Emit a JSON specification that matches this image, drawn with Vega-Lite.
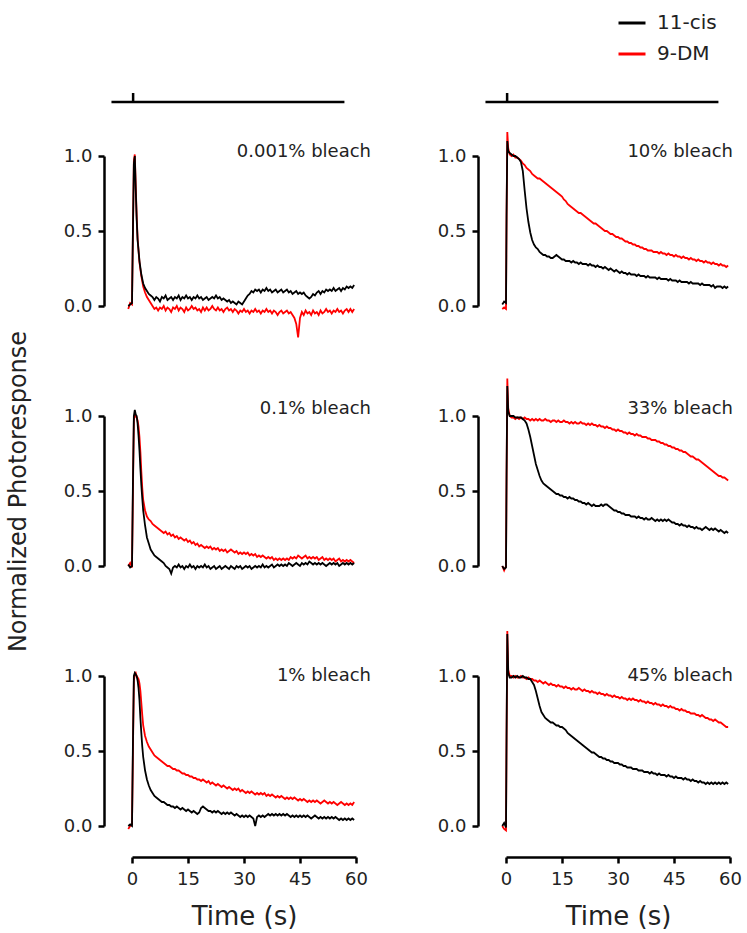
{
"$schema":"https://vega.github.io/schema/vega-lite/v6.json",
"padding":{"left":6,"top":8,"right":5,"bottom":5},
"config":{"view":{"stroke":null},"font":"DejaVu Sans",
 "axis":{"grid":false,"domainColor":"#000","domainWidth":2.5,"tickColor":"#000","tickWidth":2.5,"tickSize":6,"labelFontSize":18,"labelColor":"#222","titleFontSize":26,"titleFontWeight":"normal","titleColor":"#222","labelFont":"DejaVu Sans","titleFont":"DejaVu Sans"},
 "text":{"font":"DejaVu Sans"},
 "legend":{"labelFont":"DejaVu Sans"}},
"datasets":{
"stim":[{"t":-5.5,"v":1.36,"i":0},{"t":0.3,"v":1.36,"i":1},{"t":0.3,"v":1.42,"i":2},{"t":0.3,"v":1.36,"i":3},{"t":56.9,"v":1.36,"i":4}],
"p1":[{"t":-1,"a":0,"b":-0.02},{"t":-0.5,"a":0.01,"b":0.02},{"t":0,"a":0.02,"b":0.01},{"t":0.25,"a":0.5,"b":0.5},{"t":0.5,"a":0.95,"b":0.97},{"t":0.75,"a":1,"b":1.01},{"t":1,"a":0.78,"b":0.8},{"t":1.25,"a":0.58,"b":0.6},{"t":1.5,"a":0.44,"b":0.45},{"t":2,"a":0.3,"b":0.29},{"t":2.5,"a":0.21,"b":0.2},{"t":3,"a":0.15,"b":0.13},{"t":3.5,"a":0.12,"b":0.09},{"t":4,"a":0.1,"b":0.06},{"t":4.5,"a":0.08,"b":0.04},{"t":5,"a":0.07,"b":0.02},
{"t":5.5,"a":0.06,"b":0},{"t":6,"a":0.04,"b":-0.02},{"t":6.5,"a":0.06,"b":-0.01},{"t":7,"a":0.05,"b":-0.03},{"t":7.5,"a":0.03,"b":-0.01},{"t":8,"a":0.06,"b":-0.02},{"t":8.5,"a":0.05,"b":0},{"t":9,"a":0.07,"b":-0.03},{"t":9.5,"a":0.04,"b":-0.01},{"t":10,"a":0.05,"b":-0.02},{"t":10.5,"a":0.06,"b":-0.04},{"t":11,"a":0.04,"b":-0.01},{"t":11.5,"a":0.06,"b":-0.02},{"t":12,"a":0.05,"b":0},{"t":12.5,"a":0.07,"b":-0.03},{"t":13,"a":0.04,"b":-0.01},{"t":13.5,"a":0.06,"b":-0.02},{"t":14,"a":0.05,"b":-0.04},{"t":14.5,"a":0.07,"b":-0.01},{"t":15,"a":0.05,"b":-0.03},{"t":15.5,"a":0.06,"b":-0.02},{"t":16,"a":0.04,"b":0},{"t":16.5,"a":0.06,"b":-0.02},{"t":17,"a":0.05,"b":-0.01},{"t":17.5,"a":0.07,"b":-0.03},{"t":18,"a":0.05,"b":-0.02},{"t":18.5,"a":0.06,"b":-0.04},{"t":19,"a":0.04,"b":-0.01},{"t":19.5,"a":0.05,"b":-0.03},{"t":20,"a":0.06,"b":-0.01},{"t":20.5,"a":0.04,"b":-0.03},{"t":21,"a":0.05,"b":-0.02},{"t":21.5,"a":0.06,"b":0},{"t":22,"a":0.05,"b":-0.02},{"t":22.5,"a":0.07,"b":-0.03},{"t":23,"a":0.05,"b":-0.01},{"t":23.5,"a":0.06,"b":-0.03},{"t":24,"a":0.04,"b":-0.02},{"t":24.5,"a":0.05,"b":-0.04},{"t":25,"a":0.04,"b":-0.02},{"t":25.5,"a":0.03,"b":-0.01},{"t":26,"a":0.04,"b":-0.03},{"t":26.5,"a":0.02,"b":-0.02},{"t":27,"a":0.03,"b":-0.04},{"t":27.5,"a":0.02,"b":-0.02},{"t":28,"a":0.01,"b":-0.03},{"t":28.5,"a":0.03,"b":-0.05},{"t":29,"a":0.02,"b":-0.03},{"t":29.5,"a":0.01,"b":-0.04},{"t":30,"a":0.03,"b":-0.02},{"t":30.5,"a":0.05,"b":-0.04},{"t":31,"a":0.07,"b":-0.03},{"t":31.5,"a":0.08,"b":-0.05},{"t":32,"a":0.1,"b":-0.03},{"t":32.5,"a":0.09,"b":-0.04},{"t":33,"a":0.11,"b":-0.02},{"t":33.5,"a":0.1,"b":-0.04},{"t":34,"a":0.11,"b":-0.03},{"t":34.5,"a":0.09,"b":-0.05},{"t":35,"a":0.11,"b":-0.03},{"t":35.5,"a":0.1,"b":-0.04},{"t":36,"a":0.12,"b":-0.02},{"t":36.5,"a":0.1,"b":-0.04},{"t":37,"a":0.11,"b":-0.03},{"t":37.5,"a":0.09,"b":-0.05},{"t":38,"a":0.1,"b":-0.03},{"t":38.5,"a":0.11,"b":-0.04},{"t":39,"a":0.09,"b":-0.06},{"t":39.5,"a":0.1,"b":-0.04},{"t":40,"a":0.11,"b":-0.03},{"t":40.5,"a":0.09,"b":-0.05},{"t":41,"a":0.1,"b":-0.04},{"t":41.5,"a":0.11,"b":-0.03},{"t":42,"a":0.09,"b":-0.05},{"t":42.5,"a":0.1,"b":-0.04},{"t":43,"a":0.08,"b":-0.06},{"t":43.5,"a":0.09,"b":-0.08},{"t":44,"a":0.1,"b":-0.12},{"t":44.5,"a":0.08,"b":-0.21},{"t":45,"a":0.09,"b":-0.08},{"t":45.5,"a":0.08,"b":-0.04},{"t":46,"a":0.09,"b":-0.06},{"t":46.5,"a":0.07,"b":-0.03},{"t":47,"a":0.06,"b":-0.05},{"t":47.5,"a":0.05,"b":-0.04},{"t":48,"a":0.06,"b":-0.06},{"t":48.5,"a":0.08,"b":-0.03},{"t":49,"a":0.07,"b":-0.05},{"t":49.5,"a":0.09,"b":-0.04},{"t":50,"a":0.1,"b":-0.06},{"t":50.5,"a":0.08,"b":-0.03},{"t":51,"a":0.1,"b":-0.05},{"t":51.5,"a":0.09,"b":-0.04},{"t":52,"a":0.11,"b":-0.02},{"t":52.5,"a":0.1,"b":-0.04},{"t":53,"a":0.11,"b":-0.03},{"t":53.5,"a":0.1,"b":-0.05},{"t":54,"a":0.12,"b":-0.03},{"t":54.5,"a":0.1,"b":-0.04},{"t":55,"a":0.11,"b":-0.02},{"t":55.5,"a":0.12,"b":-0.04},{"t":56,"a":0.1,"b":-0.03},{"t":56.5,"a":0.12,"b":-0.05},{"t":57,"a":0.11,"b":-0.03},{"t":57.5,"a":0.13,"b":-0.02},{"t":58,"a":0.12,"b":-0.04},{"t":58.5,"a":0.13,"b":-0.02},{"t":59,"a":0.12,"b":-0.04},{"t":59.5,"a":0.14,"b":-0.02}],
"p2":[{"t":-1,"a":0.01,"b":0},{"t":-0.5,"a":-0.01,"b":0.02},{"t":0,"a":0,"b":-0.01},{"t":0.25,"a":0.55,"b":0.5},{"t":0.5,"a":1,"b":0.97},{"t":0.75,"a":1.04,"b":1.01},{"t":1,"a":1.01,"b":1},{"t":1.25,"a":1,"b":0.99},{"t":1.5,"a":0.95,"b":0.97},{"t":1.75,"a":0.87,"b":0.93},{"t":2,"a":0.77,"b":0.86},{"t":2.25,"a":0.65,"b":0.76},{"t":2.5,"a":0.54,"b":0.63},{"t":2.75,"a":0.45,"b":0.52},{"t":3,"a":0.37,"b":0.44},{"t":3.5,"a":0.27,"b":0.37},{"t":4,"a":0.19,"b":0.33},{"t":4.5,"a":0.15,"b":0.31},{"t":5,"a":0.11,"b":0.3},{"t":5.5,"a":0.09,"b":0.28},{"t":6,"a":0.07,"b":0.27},{"t":6.5,"a":0.06,"b":0.26},{"t":7,"a":0.05,"b":0.25},{"t":7.5,"a":0.04,"b":0.24},{"t":8,"a":0.03,"b":0.23},{"t":8.5,"a":0.02,"b":0.22},{"t":9,"a":0,"b":0.23},{"t":9.5,"a":-0.01,"b":0.21},{"t":10,"a":-0.02,"b":0.22},{"t":10.5,"a":-0.05,"b":0.2},{"t":11,"a":-0.01,"b":0.21},{"t":11.5,"a":0,"b":0.19},{"t":12,"a":-0.01,"b":0.2},{"t":12.5,"a":0.01,"b":0.18},{"t":13,"a":-0.01,"b":0.19},{"t":13.5,"a":0,"b":0.18},{"t":14,"a":-0.02,"b":0.17},{"t":14.5,"a":0,"b":0.18},{"t":15,"a":-0.01,"b":0.16},{"t":15.5,"a":0.01,"b":0.17},{"t":16,"a":-0.01,"b":0.15},{"t":16.5,"a":0,"b":0.16},{"t":17,"a":-0.02,"b":0.14},{"t":17.5,"a":0,"b":0.15},{"t":18,"a":-0.01,"b":0.13},{"t":18.5,"a":0,"b":0.14},{"t":19,"a":-0.01,"b":0.13},{"t":19.5,"a":0.01,"b":0.12},{"t":20,"a":-0.01,"b":0.13},{"t":20.5,"a":0,"b":0.12},{"t":21,"a":-0.02,"b":0.13},{"t":21.5,"a":-0.01,"b":0.11},{"t":22,"a":0,"b":0.12},{"t":22.5,"a":-0.02,"b":0.11},{"t":23,"a":-0.01,"b":0.12},{"t":23.5,"a":0,"b":0.1},{"t":24,"a":-0.02,"b":0.11},{"t":24.5,"a":-0.01,"b":0.1},{"t":25,"a":0,"b":0.11},{"t":25.5,"a":-0.01,"b":0.09},{"t":26,"a":-0.02,"b":0.1},{"t":26.5,"a":0,"b":0.11},{"t":27,"a":-0.01,"b":0.1},{"t":27.5,"a":-0.02,"b":0.09},{"t":28,"a":0,"b":0.1},{"t":28.5,"a":-0.01,"b":0.08},{"t":29,"a":0,"b":0.09},{"t":29.5,"a":-0.02,"b":0.08},{"t":30,"a":-0.01,"b":0.09},{"t":30.5,"a":0,"b":0.08},{"t":31,"a":-0.01,"b":0.09},{"t":31.5,"a":0,"b":0.07},{"t":32,"a":-0.02,"b":0.08},{"t":32.5,"a":-0.01,"b":0.07},{"t":33,"a":0,"b":0.08},{"t":33.5,"a":-0.01,"b":0.06},{"t":34,"a":0,"b":0.07},{"t":34.5,"a":-0.01,"b":0.06},{"t":35,"a":0.01,"b":0.07},{"t":35.5,"a":-0.01,"b":0.06},{"t":36,"a":0,"b":0.05},{"t":36.5,"a":-0.01,"b":0.06},{"t":37,"a":0,"b":0.05},{"t":37.5,"a":0.01,"b":0.06},{"t":38,"a":-0.01,"b":0.04},{"t":38.5,"a":0,"b":0.05},{"t":39,"a":0.01,"b":0.04},{"t":39.5,"a":0,"b":0.05},{"t":40,"a":0.01,"b":0.04},{"t":40.5,"a":0,"b":0.05},{"t":41,"a":0.01,"b":0.04},{"t":41.5,"a":0,"b":0.05},{"t":42,"a":0.02,"b":0.04},{"t":42.5,"a":0.01,"b":0.06},{"t":43,"a":0,"b":0.05},{"t":43.5,"a":0.01,"b":0.06},{"t":44,"a":0.02,"b":0.05},{"t":44.5,"a":0.01,"b":0.07},{"t":45,"a":0,"b":0.06},{"t":45.5,"a":0.02,"b":0.05},{"t":46,"a":0.01,"b":0.06},{"t":46.5,"a":0.02,"b":0.07},{"t":47,"a":0.01,"b":0.05},{"t":47.5,"a":0.03,"b":0.06},{"t":48,"a":0.02,"b":0.05},{"t":48.5,"a":0.01,"b":0.06},{"t":49,"a":0.02,"b":0.05},{"t":49.5,"a":0.01,"b":0.06},{"t":50,"a":0.02,"b":0.04},{"t":50.5,"a":0.01,"b":0.05},{"t":51,"a":0.02,"b":0.06},{"t":51.5,"a":0.01,"b":0.04},{"t":52,"a":0,"b":0.05},{"t":52.5,"a":0.01,"b":0.04},{"t":53,"a":0.02,"b":0.05},{"t":53.5,"a":0.01,"b":0.04},{"t":54,"a":0.02,"b":0.05},{"t":54.5,"a":0.01,"b":0.03},{"t":55,"a":0.02,"b":0.04},{"t":55.5,"a":0,"b":0.05},{"t":56,"a":0.01,"b":0.03},{"t":56.5,"a":0.02,"b":0.04},{"t":57,"a":0.01,"b":0.03},{"t":57.5,"a":0.02,"b":0.04},{"t":58,"a":0.01,"b":0.03},{"t":58.5,"a":0.02,"b":0.04},{"t":59,"a":0.01,"b":0.03},{"t":59.5,"a":0.02,"b":0.02}],
"p3":[{"t":-1,"a":0,"b":-0.02},{"t":-0.5,"a":0.01,"b":0},{"t":0,"a":0,"b":0.01},{"t":0.25,"a":0.55,"b":0.5},{"t":0.5,"a":1,"b":0.97},{"t":0.75,"a":1.02,"b":1.01},{"t":1,"a":1.01,"b":1.02},{"t":1.25,"a":1,"b":1},{"t":1.5,"a":0.97,"b":0.99},{"t":1.75,"a":0.92,"b":0.98},{"t":2,"a":0.84,"b":0.95},{"t":2.25,"a":0.72,"b":0.9},{"t":2.5,"a":0.62,"b":0.82},{"t":2.75,"a":0.53,"b":0.74},{"t":3,"a":0.46,"b":0.67},{"t":3.5,"a":0.37,"b":0.6},{"t":4,"a":0.31,"b":0.56},{"t":4.5,"a":0.27,"b":0.53},{"t":5,"a":0.24,"b":0.51},{"t":5.5,"a":0.22,"b":0.49},{"t":6,"a":0.2,"b":0.47},{"t":6.5,"a":0.19,"b":0.46},{"t":7,"a":0.18,"b":0.45},{"t":7.5,"a":0.17,"b":0.44},{"t":8,"a":0.16,"b":0.43},{"t":8.5,"a":0.16,"b":0.42},{"t":9,"a":0.15,"b":0.41},{"t":9.5,"a":0.14,"b":0.4},{"t":10,"a":0.14,"b":0.4},{"t":10.5,"a":0.13,"b":0.39},{"t":11,"a":0.13,"b":0.38},{"t":11.5,"a":0.12,"b":0.38},{"t":12,"a":0.13,"b":0.37},{"t":12.5,"a":0.12,"b":0.37},{"t":13,"a":0.11,"b":0.36},{"t":13.5,"a":0.12,"b":0.35},{"t":14,"a":0.11,"b":0.35},{"t":14.5,"a":0.1,"b":0.34},{"t":15,"a":0.11,"b":0.34},{"t":15.5,"a":0.1,"b":0.33},{"t":16,"a":0.09,"b":0.33},{"t":16.5,"a":0.1,"b":0.32},{"t":17,"a":0.09,"b":0.32},{"t":17.5,"a":0.08,"b":0.31},{"t":18,"a":0.09,"b":0.31},{"t":18.5,"a":0.12,"b":0.3},{"t":19,"a":0.13,"b":0.31},{"t":19.5,"a":0.12,"b":0.3},{"t":20,"a":0.11,"b":0.29},{"t":20.5,"a":0.1,"b":0.3},{"t":21,"a":0.1,"b":0.28},{"t":21.5,"a":0.09,"b":0.29},{"t":22,"a":0.1,"b":0.28},{"t":22.5,"a":0.09,"b":0.27},{"t":23,"a":0.1,"b":0.28},{"t":23.5,"a":0.09,"b":0.27},{"t":24,"a":0.08,"b":0.26},{"t":24.5,"a":0.09,"b":0.27},{"t":25,"a":0.08,"b":0.26},{"t":25.5,"a":0.09,"b":0.25},{"t":26,"a":0.08,"b":0.26},{"t":26.5,"a":0.09,"b":0.25},{"t":27,"a":0.08,"b":0.24},{"t":27.5,"a":0.07,"b":0.25},{"t":28,"a":0.08,"b":0.24},{"t":28.5,"a":0.07,"b":0.25},{"t":29,"a":0.06,"b":0.23},{"t":29.5,"a":0.07,"b":0.24},{"t":30,"a":0.06,"b":0.23},{"t":30.5,"a":0.07,"b":0.22},{"t":31,"a":0.06,"b":0.23},{"t":31.5,"a":0.07,"b":0.22},{"t":32,"a":0.06,"b":0.23},{"t":32.5,"a":0.05,"b":0.22},{"t":33,"a":0,"b":0.21},{"t":33.5,"a":0.06,"b":0.22},{"t":34,"a":0.07,"b":0.21},{"t":34.5,"a":0.06,"b":0.22},{"t":35,"a":0.07,"b":0.21},{"t":35.5,"a":0.06,"b":0.22},{"t":36,"a":0.07,"b":0.2},{"t":36.5,"a":0.08,"b":0.21},{"t":37,"a":0.07,"b":0.2},{"t":37.5,"a":0.08,"b":0.21},{"t":38,"a":0.07,"b":0.2},{"t":38.5,"a":0.08,"b":0.19},{"t":39,"a":0.07,"b":0.2},{"t":39.5,"a":0.08,"b":0.19},{"t":40,"a":0.07,"b":0.2},{"t":40.5,"a":0.08,"b":0.19},{"t":41,"a":0.07,"b":0.18},{"t":41.5,"a":0.08,"b":0.19},{"t":42,"a":0.07,"b":0.18},{"t":42.5,"a":0.06,"b":0.19},{"t":43,"a":0.07,"b":0.18},{"t":43.5,"a":0.06,"b":0.19},{"t":44,"a":0.07,"b":0.18},{"t":44.5,"a":0.06,"b":0.17},{"t":45,"a":0.07,"b":0.18},{"t":45.5,"a":0.06,"b":0.17},{"t":46,"a":0.07,"b":0.18},{"t":46.5,"a":0.06,"b":0.17},{"t":47,"a":0.07,"b":0.16},{"t":47.5,"a":0.06,"b":0.17},{"t":48,"a":0.05,"b":0.16},{"t":48.5,"a":0.06,"b":0.17},{"t":49,"a":0.07,"b":0.16},{"t":49.5,"a":0.06,"b":0.17},{"t":50,"a":0.05,"b":0.16},{"t":50.5,"a":0.06,"b":0.15},{"t":51,"a":0.05,"b":0.16},{"t":51.5,"a":0.06,"b":0.17},{"t":52,"a":0.05,"b":0.16},{"t":52.5,"a":0.06,"b":0.15},{"t":53,"a":0.05,"b":0.16},{"t":53.5,"a":0.06,"b":0.15},{"t":54,"a":0.05,"b":0.16},{"t":54.5,"a":0.06,"b":0.15},{"t":55,"a":0.05,"b":0.14},{"t":55.5,"a":0.04,"b":0.15},{"t":56,"a":0.05,"b":0.16},{"t":56.5,"a":0.04,"b":0.15},{"t":57,"a":0.05,"b":0.14},{"t":57.5,"a":0.04,"b":0.15},{"t":58,"a":0.05,"b":0.14},{"t":58.5,"a":0.04,"b":0.15},{"t":59,"a":0.05,"b":0.14},{"t":59.5,"a":0.04,"b":0.16}],
"p4":[{"t":-1,"a":0.01,"b":-0.02},{"t":-0.5,"a":0.03,"b":-0.01},{"t":0,"a":0.02,"b":-0.02},{"t":0.15,"a":0.6,"b":0.6},{"t":0.35,"a":1.1,"b":1.16},{"t":0.6,"a":1.03,"b":1.05},{"t":1,"a":1.02,"b":1.01},{"t":1.5,"a":1.01,"b":1},{"t":2,"a":1,"b":1.01},{"t":2.5,"a":1,"b":0.99},{"t":3,"a":0.99,"b":0.99},{"t":3.5,"a":0.98,"b":0.98},{"t":4,"a":0.96,"b":0.97},{"t":4.5,"a":0.9,"b":0.95},{"t":5,"a":0.77,"b":0.94},{"t":5.5,"a":0.65,"b":0.92},{"t":6,"a":0.56,"b":0.91},{"t":6.5,"a":0.49,"b":0.9},{"t":7,"a":0.44,"b":0.88},{"t":7.5,"a":0.41,"b":0.87},{"t":8,"a":0.39,"b":0.86},{"t":8.5,"a":0.38,"b":0.85},{"t":9,"a":0.36,"b":0.85},{"t":9.5,"a":0.35,"b":0.84},{"t":10,"a":0.34,"b":0.83},{"t":10.5,"a":0.34,"b":0.82},{"t":11,"a":0.33,"b":0.81},{"t":11.5,"a":0.33,"b":0.8},{"t":12,"a":0.32,"b":0.79},{"t":12.5,"a":0.32,"b":0.78},{"t":13,"a":0.33,"b":0.77},{"t":13.5,"a":0.34,"b":0.76},{"t":14,"a":0.33,"b":0.75},{"t":14.5,"a":0.32,"b":0.74},{"t":15,"a":0.31,"b":0.73},{"t":15.5,"a":0.31,"b":0.71},{"t":16,"a":0.3,"b":0.7},{"t":16.5,"a":0.3,"b":0.68},{"t":17,"a":0.3,"b":0.67},{"t":17.5,"a":0.29,"b":0.66},{"t":18,"a":0.3,"b":0.65},{"t":18.5,"a":0.29,"b":0.64},{"t":19,"a":0.29,"b":0.63},{"t":19.5,"a":0.28,"b":0.62},{"t":20,"a":0.29,"b":0.62},{"t":20.5,"a":0.28,"b":0.61},{"t":21,"a":0.28,"b":0.6},{"t":21.5,"a":0.28,"b":0.59},{"t":22,"a":0.27,"b":0.58},{"t":22.5,"a":0.28,"b":0.57},{"t":23,"a":0.27,"b":0.56},{"t":23.5,"a":0.27,"b":0.55},{"t":24,"a":0.26,"b":0.55},{"t":24.5,"a":0.27,"b":0.54},{"t":25,"a":0.26,"b":0.53},{"t":25.5,"a":0.26,"b":0.52},{"t":26,"a":0.25,"b":0.51},{"t":26.5,"a":0.26,"b":0.5},{"t":27,"a":0.25,"b":0.5},{"t":27.5,"a":0.24,"b":0.49},{"t":28,"a":0.25,"b":0.48},{"t":28.5,"a":0.24,"b":0.48},{"t":29,"a":0.23,"b":0.47},{"t":29.5,"a":0.24,"b":0.46},{"t":30,"a":0.23,"b":0.46},{"t":30.5,"a":0.22,"b":0.45},{"t":31,"a":0.23,"b":0.45},{"t":31.5,"a":0.22,"b":0.44},{"t":32,"a":0.22,"b":0.43},{"t":32.5,"a":0.21,"b":0.43},{"t":33,"a":0.22,"b":0.42},{"t":33.5,"a":0.21,"b":0.42},{"t":34,"a":0.21,"b":0.41},{"t":34.5,"a":0.21,"b":0.41},{"t":35,"a":0.2,"b":0.4},{"t":35.5,"a":0.21,"b":0.4},{"t":36,"a":0.2,"b":0.39},{"t":36.5,"a":0.2,"b":0.39},{"t":37,"a":0.2,"b":0.38},{"t":37.5,"a":0.19,"b":0.38},{"t":38,"a":0.2,"b":0.37},{"t":38.5,"a":0.19,"b":0.37},{"t":39,"a":0.19,"b":0.37},{"t":39.5,"a":0.19,"b":0.36},{"t":40,"a":0.19,"b":0.36},{"t":40.5,"a":0.18,"b":0.36},{"t":41,"a":0.19,"b":0.35},{"t":41.5,"a":0.18,"b":0.36},{"t":42,"a":0.18,"b":0.35},{"t":42.5,"a":0.18,"b":0.35},{"t":43,"a":0.18,"b":0.34},{"t":43.5,"a":0.17,"b":0.35},{"t":44,"a":0.18,"b":0.34},{"t":44.5,"a":0.17,"b":0.34},{"t":45,"a":0.17,"b":0.33},{"t":45.5,"a":0.17,"b":0.34},{"t":46,"a":0.16,"b":0.33},{"t":46.5,"a":0.17,"b":0.33},{"t":47,"a":0.16,"b":0.32},{"t":47.5,"a":0.16,"b":0.33},{"t":48,"a":0.16,"b":0.32},{"t":48.5,"a":0.16,"b":0.32},{"t":49,"a":0.15,"b":0.31},{"t":49.5,"a":0.16,"b":0.32},{"t":50,"a":0.15,"b":0.31},{"t":50.5,"a":0.15,"b":0.31},{"t":51,"a":0.15,"b":0.3},{"t":51.5,"a":0.15,"b":0.31},{"t":52,"a":0.14,"b":0.3},{"t":52.5,"a":0.15,"b":0.3},{"t":53,"a":0.14,"b":0.29},{"t":53.5,"a":0.14,"b":0.3},{"t":54,"a":0.14,"b":0.29},{"t":54.5,"a":0.14,"b":0.29},{"t":55,"a":0.13,"b":0.28},{"t":55.5,"a":0.14,"b":0.29},{"t":56,"a":0.12,"b":0.28},{"t":56.5,"a":0.13,"b":0.28},{"t":57,"a":0.13,"b":0.27},{"t":57.5,"a":0.13,"b":0.28},{"t":58,"a":0.12,"b":0.27},{"t":58.5,"a":0.13,"b":0.27},{"t":59,"a":0.12,"b":0.26},{"t":59.5,"a":0.13,"b":0.27}],
"p5":[{"t":-1,"a":0,"b":0},{"t":-0.5,"a":-0.02,"b":-0.03},{"t":0,"a":-0.01,"b":0},{"t":0.15,"a":0.6,"b":0.6},{"t":0.35,"a":1.2,"b":1.25},{"t":0.6,"a":1.03,"b":1.05},{"t":1,"a":1,"b":1},{"t":1.5,"a":1,"b":0.99},{"t":2,"a":1,"b":0.99},{"t":2.5,"a":0.99,"b":0.98},{"t":3,"a":0.99,"b":0.99},{"t":3.5,"a":0.99,"b":0.98},{"t":4,"a":0.99,"b":0.99},{"t":4.5,"a":0.98,"b":0.98},{"t":5,"a":0.97,"b":0.99},{"t":5.5,"a":0.95,"b":0.98},{"t":6,"a":0.91,"b":0.98},{"t":6.5,"a":0.86,"b":0.97},{"t":7,"a":0.8,"b":0.98},{"t":7.5,"a":0.74,"b":0.97},{"t":8,"a":0.68,"b":0.98},{"t":8.5,"a":0.64,"b":0.97},{"t":9,"a":0.6,"b":0.98},{"t":9.5,"a":0.57,"b":0.97},{"t":10,"a":0.55,"b":0.97},{"t":10.5,"a":0.54,"b":0.98},{"t":11,"a":0.53,"b":0.97},{"t":11.5,"a":0.52,"b":0.97},{"t":12,"a":0.51,"b":0.96},{"t":12.5,"a":0.5,"b":0.97},{"t":13,"a":0.49,"b":0.97},{"t":13.5,"a":0.48,"b":0.96},{"t":14,"a":0.48,"b":0.97},{"t":14.5,"a":0.47,"b":0.96},{"t":15,"a":0.47,"b":0.96},{"t":15.5,"a":0.46,"b":0.97},{"t":16,"a":0.46,"b":0.96},{"t":16.5,"a":0.45,"b":0.96},{"t":17,"a":0.46,"b":0.95},{"t":17.5,"a":0.45,"b":0.96},{"t":18,"a":0.45,"b":0.95},{"t":18.5,"a":0.44,"b":0.96},{"t":19,"a":0.44,"b":0.95},{"t":19.5,"a":0.43,"b":0.95},{"t":20,"a":0.43,"b":0.96},{"t":20.5,"a":0.42,"b":0.95},{"t":21,"a":0.42,"b":0.95},{"t":21.5,"a":0.41,"b":0.94},{"t":22,"a":0.42,"b":0.95},{"t":22.5,"a":0.41,"b":0.94},{"t":23,"a":0.4,"b":0.95},{"t":23.5,"a":0.41,"b":0.94},{"t":24,"a":0.4,"b":0.94},{"t":24.5,"a":0.4,"b":0.93},{"t":25,"a":0.4,"b":0.94},{"t":25.5,"a":0.41,"b":0.93},{"t":26,"a":0.4,"b":0.93},{"t":26.5,"a":0.41,"b":0.92},{"t":27,"a":0.41,"b":0.93},{"t":27.5,"a":0.4,"b":0.92},{"t":28,"a":0.39,"b":0.92},{"t":28.5,"a":0.38,"b":0.91},{"t":29,"a":0.37,"b":0.91},{"t":29.5,"a":0.37,"b":0.9},{"t":30,"a":0.36,"b":0.91},{"t":30.5,"a":0.36,"b":0.9},{"t":31,"a":0.35,"b":0.9},{"t":31.5,"a":0.35,"b":0.89},{"t":32,"a":0.34,"b":0.89},{"t":32.5,"a":0.34,"b":0.88},{"t":33,"a":0.34,"b":0.89},{"t":33.5,"a":0.33,"b":0.88},{"t":34,"a":0.33,"b":0.88},{"t":34.5,"a":0.33,"b":0.87},{"t":35,"a":0.32,"b":0.88},{"t":35.5,"a":0.33,"b":0.87},{"t":36,"a":0.32,"b":0.87},{"t":36.5,"a":0.32,"b":0.86},{"t":37,"a":0.31,"b":0.86},{"t":37.5,"a":0.32,"b":0.86},{"t":38,"a":0.31,"b":0.85},{"t":38.5,"a":0.31,"b":0.85},{"t":39,"a":0.32,"b":0.84},{"t":39.5,"a":0.31,"b":0.84},{"t":40,"a":0.3,"b":0.84},{"t":40.5,"a":0.31,"b":0.83},{"t":41,"a":0.3,"b":0.83},{"t":41.5,"a":0.31,"b":0.82},{"t":42,"a":0.3,"b":0.82},{"t":42.5,"a":0.31,"b":0.81},{"t":43,"a":0.3,"b":0.81},{"t":43.5,"a":0.31,"b":0.8},{"t":44,"a":0.3,"b":0.8},{"t":44.5,"a":0.29,"b":0.79},{"t":45,"a":0.29,"b":0.79},{"t":45.5,"a":0.28,"b":0.78},{"t":46,"a":0.28,"b":0.78},{"t":46.5,"a":0.27,"b":0.77},{"t":47,"a":0.28,"b":0.77},{"t":47.5,"a":0.27,"b":0.76},{"t":48,"a":0.27,"b":0.76},{"t":48.5,"a":0.26,"b":0.75},{"t":49,"a":0.27,"b":0.74},{"t":49.5,"a":0.26,"b":0.73},{"t":50,"a":0.26,"b":0.73},{"t":50.5,"a":0.25,"b":0.72},{"t":51,"a":0.26,"b":0.71},{"t":51.5,"a":0.25,"b":0.71},{"t":52,"a":0.25,"b":0.7},{"t":52.5,"a":0.24,"b":0.69},{"t":53,"a":0.25,"b":0.68},{"t":53.5,"a":0.26,"b":0.67},{"t":54,"a":0.25,"b":0.66},{"t":54.5,"a":0.24,"b":0.65},{"t":55,"a":0.25,"b":0.64},{"t":55.5,"a":0.24,"b":0.63},{"t":56,"a":0.25,"b":0.62},{"t":56.5,"a":0.24,"b":0.61},{"t":57,"a":0.23,"b":0.6},{"t":57.5,"a":0.24,"b":0.6},{"t":58,"a":0.23,"b":0.59},{"t":58.5,"a":0.22,"b":0.59},{"t":59,"a":0.23,"b":0.58},{"t":59.5,"a":0.22,"b":0.57}],
"p6":[{"t":-1,"a":0,"b":0},{"t":-0.5,"a":0.02,"b":-0.02},{"t":0,"a":-0.01,"b":-0.03},{"t":0.15,"a":0.6,"b":0.6},{"t":0.35,"a":1.28,"b":1.3},{"t":0.6,"a":1.02,"b":1.04},{"t":1,"a":0.99,"b":1},{"t":1.5,"a":0.99,"b":1},{"t":2,"a":1,"b":0.99},{"t":2.5,"a":0.99,"b":1},{"t":3,"a":1,"b":0.99},{"t":3.5,"a":0.99,"b":0.99},{"t":4,"a":0.99,"b":1},{"t":4.5,"a":1,"b":0.99},{"t":5,"a":0.99,"b":0.99},{"t":5.5,"a":0.99,"b":0.98},{"t":6,"a":0.98,"b":0.99},{"t":6.5,"a":0.98,"b":0.98},{"t":7,"a":0.96,"b":0.98},{"t":7.5,"a":0.94,"b":0.97},{"t":8,"a":0.9,"b":0.97},{"t":8.5,"a":0.85,"b":0.96},{"t":9,"a":0.8,"b":0.97},{"t":9.5,"a":0.76,"b":0.96},{"t":10,"a":0.74,"b":0.95},{"t":10.5,"a":0.72,"b":0.96},{"t":11,"a":0.71,"b":0.95},{"t":11.5,"a":0.7,"b":0.94},{"t":12,"a":0.69,"b":0.95},{"t":12.5,"a":0.69,"b":0.94},{"t":13,"a":0.68,"b":0.94},{"t":13.5,"a":0.67,"b":0.93},{"t":14,"a":0.67,"b":0.94},{"t":14.5,"a":0.66,"b":0.93},{"t":15,"a":0.66,"b":0.93},{"t":15.5,"a":0.65,"b":0.92},{"t":16,"a":0.64,"b":0.93},{"t":16.5,"a":0.62,"b":0.92},{"t":17,"a":0.61,"b":0.92},{"t":17.5,"a":0.6,"b":0.91},{"t":18,"a":0.59,"b":0.92},{"t":18.5,"a":0.58,"b":0.91},{"t":19,"a":0.57,"b":0.91},{"t":19.5,"a":0.56,"b":0.92},{"t":20,"a":0.55,"b":0.91},{"t":20.5,"a":0.54,"b":0.9},{"t":21,"a":0.53,"b":0.91},{"t":21.5,"a":0.52,"b":0.9},{"t":22,"a":0.51,"b":0.9},{"t":22.5,"a":0.5,"b":0.89},{"t":23,"a":0.49,"b":0.9},{"t":23.5,"a":0.49,"b":0.89},{"t":24,"a":0.48,"b":0.89},{"t":24.5,"a":0.47,"b":0.88},{"t":25,"a":0.46,"b":0.89},{"t":25.5,"a":0.46,"b":0.88},{"t":26,"a":0.45,"b":0.88},{"t":26.5,"a":0.45,"b":0.87},{"t":27,"a":0.44,"b":0.88},{"t":27.5,"a":0.44,"b":0.87},{"t":28,"a":0.43,"b":0.87},{"t":28.5,"a":0.43,"b":0.86},{"t":29,"a":0.42,"b":0.87},{"t":29.5,"a":0.42,"b":0.86},{"t":30,"a":0.42,"b":0.86},{"t":30.5,"a":0.41,"b":0.85},{"t":31,"a":0.41,"b":0.86},{"t":31.5,"a":0.4,"b":0.85},{"t":32,"a":0.4,"b":0.85},{"t":32.5,"a":0.39,"b":0.84},{"t":33,"a":0.39,"b":0.85},{"t":33.5,"a":0.39,"b":0.84},{"t":34,"a":0.38,"b":0.85},{"t":34.5,"a":0.38,"b":0.84},{"t":35,"a":0.38,"b":0.84},{"t":35.5,"a":0.37,"b":0.83},{"t":36,"a":0.37,"b":0.84},{"t":36.5,"a":0.37,"b":0.83},{"t":37,"a":0.36,"b":0.83},{"t":37.5,"a":0.36,"b":0.82},{"t":38,"a":0.36,"b":0.83},{"t":38.5,"a":0.35,"b":0.82},{"t":39,"a":0.36,"b":0.82},{"t":39.5,"a":0.35,"b":0.81},{"t":40,"a":0.35,"b":0.82},{"t":40.5,"a":0.34,"b":0.81},{"t":41,"a":0.35,"b":0.81},{"t":41.5,"a":0.34,"b":0.8},{"t":42,"a":0.34,"b":0.81},{"t":42.5,"a":0.34,"b":0.8},{"t":43,"a":0.33,"b":0.8},{"t":43.5,"a":0.34,"b":0.79},{"t":44,"a":0.33,"b":0.8},{"t":44.5,"a":0.33,"b":0.79},{"t":45,"a":0.32,"b":0.79},{"t":45.5,"a":0.33,"b":0.78},{"t":46,"a":0.32,"b":0.78},{"t":46.5,"a":0.32,"b":0.77},{"t":47,"a":0.32,"b":0.78},{"t":47.5,"a":0.31,"b":0.77},{"t":48,"a":0.32,"b":0.77},{"t":48.5,"a":0.31,"b":0.76},{"t":49,"a":0.31,"b":0.76},{"t":49.5,"a":0.3,"b":0.75},{"t":50,"a":0.31,"b":0.75},{"t":50.5,"a":0.3,"b":0.75},{"t":51,"a":0.3,"b":0.74},{"t":51.5,"a":0.29,"b":0.74},{"t":52,"a":0.3,"b":0.73},{"t":52.5,"a":0.29,"b":0.74},{"t":53,"a":0.29,"b":0.73},{"t":53.5,"a":0.28,"b":0.72},{"t":54,"a":0.29,"b":0.72},{"t":54.5,"a":0.28,"b":0.71},{"t":55,"a":0.29,"b":0.71},{"t":55.5,"a":0.28,"b":0.7},{"t":56,"a":0.29,"b":0.71},{"t":56.5,"a":0.28,"b":0.7},{"t":57,"a":0.29,"b":0.69},{"t":57.5,"a":0.28,"b":0.69},{"t":58,"a":0.29,"b":0.68},{"t":58.5,"a":0.28,"b":0.67},{"t":59,"a":0.29,"b":0.66},{"t":59.5,"a":0.28,"b":0.66}]
},
"columns":2,
"spacing":{"row":110,"column":150},
"bounds":"flush",
"concat":[
  {"width":224,"height":150,"layer":[
   {"data":{"name":"p1"},"transform":[{"fold":["b","a"],"as":["s","v"]}],"mark":{"type":"line","clip":false,"strokeWidth":1.8},
    "encoding":{"x":{"field":"t","type":"quantitative","scale":{"domain":[0,60]},"axis":null},
     "y":{"field":"v","type":"quantitative","scale":{"domain":[0,1]},"axis":{"values":[0,0.25,0.5,0.75,1],"offset":28,"title":null,"labelExpr":"datum.value % 0.5 === 0 ? format(datum.value, '.1f') : ''","tickSize":{"condition":{"test":"datum.value % 0.5 === 0","value":6},"value":3.5},"labelPadding":6}},
     "color":{"field":"s","type":"nominal","scale":{"domain":["a","b"],"range":["#000000","#ff0000"]},"legend":{"orient":"none","legendX":485,"legendY":-148,"title":null,"direction":"vertical","symbolType":"stroke","symbolStrokeWidth":3,"symbolSize":729,"labelFontSize":20,"labelColor":"#222","labelOffset":10,"rowPadding":6,"padding":0,"labelExpr":"datum.value === 'a' ? '11-cis' : '9-DM'"}}}},
   {"data":{"name":"stim"},"mark":{"type":"line","clip":false,"color":"#000","strokeWidth":2.5},"encoding":{"x":{"field":"t","type":"quantitative"},"y":{"field":"v","type":"quantitative"},"order":{"field":"i","type":"quantitative"}}},
   {"data":{"values":[{"label":"0.001% bleach"}]},"mark":{"type":"text","align":"right","baseline":"middle","dx":15,"fontSize":18,"color":"#222"},"encoding":{"x":{"datum":60,"type":"quantitative"},"y":{"datum":1.03,"type":"quantitative"},"text":{"field":"label"}}}
  ]},
  {"width":224,"height":150,"layer":[
   {"data":{"name":"p4"},"transform":[{"fold":["b","a"],"as":["s","v"]}],"mark":{"type":"line","clip":false,"strokeWidth":1.8},
    "encoding":{"x":{"field":"t","type":"quantitative","scale":{"domain":[0,60]},"axis":null},
     "y":{"field":"v","type":"quantitative","scale":{"domain":[0,1]},"axis":{"values":[0,0.25,0.5,0.75,1],"offset":28,"title":null,"labelExpr":"datum.value % 0.5 === 0 ? format(datum.value, '.1f') : ''","tickSize":{"condition":{"test":"datum.value % 0.5 === 0","value":6},"value":3.5},"labelPadding":6}},
     "color":{"field":"s","type":"nominal","scale":{"domain":["a","b"],"range":["#000000","#ff0000"]},"legend":{"orient":"none","legendX":485,"legendY":-148,"title":null,"direction":"vertical","symbolType":"stroke","symbolStrokeWidth":3,"symbolSize":729,"labelFontSize":20,"labelColor":"#222","labelOffset":10,"rowPadding":6,"padding":0,"labelExpr":"datum.value === 'a' ? '11-cis' : '9-DM'"}}}},
   {"data":{"name":"stim"},"mark":{"type":"line","clip":false,"color":"#000","strokeWidth":2.5},"encoding":{"x":{"field":"t","type":"quantitative"},"y":{"field":"v","type":"quantitative"},"order":{"field":"i","type":"quantitative"}}},
   {"data":{"values":[{"label":"10% bleach"}]},"mark":{"type":"text","align":"right","baseline":"middle","dx":3,"fontSize":18,"color":"#222"},"encoding":{"x":{"datum":60,"type":"quantitative"},"y":{"datum":1.03,"type":"quantitative"},"text":{"field":"label"}}}
  ]},
  {"width":224,"height":150,"layer":[
    {"data":{"name":"p2"},"transform":[{"fold":["b","a"],"as":["s","v"]}],"mark":{"type":"line","clip":false,"strokeWidth":1.8},
     "encoding":{"x":{"field":"t","type":"quantitative","scale":{"domain":[0,60]},"axis":null},
      "y":{"field":"v","type":"quantitative","scale":{"domain":[0,1]},"axis":{"values":[0,0.25,0.5,0.75,1],"offset":28,"title":"Normalized Photoresponse","titlePadding":33,"titleFontSize":24,"labelExpr":"datum.value % 0.5 === 0 ? format(datum.value, '.1f') : ''","tickSize":{"condition":{"test":"datum.value % 0.5 === 0","value":6},"value":3.5},"labelPadding":6}},
      "color":{"field":"s","type":"nominal","scale":{"domain":["a","b"],"range":["#000000","#ff0000"]},"legend":{"orient":"none","legendX":485,"legendY":-148,"title":null,"direction":"vertical","symbolType":"stroke","symbolStrokeWidth":3,"symbolSize":729,"labelFontSize":20,"labelColor":"#222","labelOffset":10,"rowPadding":6,"padding":0,"labelExpr":"datum.value === 'a' ? '11-cis' : '9-DM'"}}}},
    {"data":{"values":[{"label":"0.1% bleach"}]},"mark":{"type":"text","align":"right","baseline":"middle","dx":15,"fontSize":18,"color":"#222"},"encoding":{"x":{"datum":60,"type":"quantitative"},"y":{"datum":1.05,"type":"quantitative"},"text":{"field":"label"}}}
  ]},
  {"width":224,"height":150,"layer":[
    {"data":{"name":"p5"},"transform":[{"fold":["b","a"],"as":["s","v"]}],"mark":{"type":"line","clip":false,"strokeWidth":1.8},
     "encoding":{"x":{"field":"t","type":"quantitative","scale":{"domain":[0,60]},"axis":null},
      "y":{"field":"v","type":"quantitative","scale":{"domain":[0,1]},"axis":{"values":[0,0.25,0.5,0.75,1],"offset":28,"title":null,"labelExpr":"datum.value % 0.5 === 0 ? format(datum.value, '.1f') : ''","tickSize":{"condition":{"test":"datum.value % 0.5 === 0","value":6},"value":3.5},"labelPadding":6}},
      "color":{"field":"s","type":"nominal","scale":{"domain":["a","b"],"range":["#000000","#ff0000"]},"legend":{"orient":"none","legendX":485,"legendY":-148,"title":null,"direction":"vertical","symbolType":"stroke","symbolStrokeWidth":3,"symbolSize":729,"labelFontSize":20,"labelColor":"#222","labelOffset":10,"rowPadding":6,"padding":0,"labelExpr":"datum.value === 'a' ? '11-cis' : '9-DM'"}}}},
    {"data":{"values":[{"label":"33% bleach"}]},"mark":{"type":"text","align":"right","baseline":"middle","dx":3,"fontSize":18,"color":"#222"},"encoding":{"x":{"datum":60,"type":"quantitative"},"y":{"datum":1.05,"type":"quantitative"},"text":{"field":"label"}}}
  ]},
  {"width":224,"height":150,"layer":[
    {"data":{"name":"p3"},"transform":[{"fold":["b","a"],"as":["s","v"]}],"mark":{"type":"line","clip":false,"strokeWidth":1.8},
     "encoding":{"x":{"field":"t","type":"quantitative","scale":{"domain":[0,60]},"axis":{"values":[0,7.5,15,22.5,30,37.5,45,52.5,60],"offset":31,"title":"Time (s)","labelExpr":"datum.value % 15 === 0 ? datum.label : ''","tickSize":{"condition":{"test":"datum.value % 15 === 0","value":6},"value":3.5},"labelPadding":7,"titlePadding":15,"labelFlush":false,"labelOverlap":false}},
      "y":{"field":"v","type":"quantitative","scale":{"domain":[0,1]},"axis":{"values":[0,0.25,0.5,0.75,1],"offset":28,"title":null,"labelExpr":"datum.value % 0.5 === 0 ? format(datum.value, '.1f') : ''","tickSize":{"condition":{"test":"datum.value % 0.5 === 0","value":6},"value":3.5},"labelPadding":6}},
      "color":{"field":"s","type":"nominal","scale":{"domain":["a","b"],"range":["#000000","#ff0000"]},"legend":{"orient":"none","legendX":485,"legendY":-148,"title":null,"direction":"vertical","symbolType":"stroke","symbolStrokeWidth":3,"symbolSize":729,"labelFontSize":20,"labelColor":"#222","labelOffset":10,"rowPadding":6,"padding":0,"labelExpr":"datum.value === 'a' ? '11-cis' : '9-DM'"}}}},
    {"data":{"values":[{"label":"1% bleach"}]},"mark":{"type":"text","align":"right","baseline":"middle","dx":15,"fontSize":18,"color":"#222"},"encoding":{"x":{"datum":60,"type":"quantitative"},"y":{"datum":1.0,"type":"quantitative"},"text":{"field":"label"}}}
  ]},
  {"width":224,"height":150,"layer":[
    {"data":{"name":"p6"},"transform":[{"fold":["b","a"],"as":["s","v"]}],"mark":{"type":"line","clip":false,"strokeWidth":1.8},
     "encoding":{"x":{"field":"t","type":"quantitative","scale":{"domain":[0,60]},"axis":{"values":[0,7.5,15,22.5,30,37.5,45,52.5,60],"offset":31,"title":"Time (s)","labelExpr":"datum.value % 15 === 0 ? datum.label : ''","tickSize":{"condition":{"test":"datum.value % 15 === 0","value":6},"value":3.5},"labelPadding":7,"titlePadding":15,"labelFlush":false,"labelOverlap":false}},
      "y":{"field":"v","type":"quantitative","scale":{"domain":[0,1]},"axis":{"values":[0,0.25,0.5,0.75,1],"offset":28,"title":null,"labelExpr":"datum.value % 0.5 === 0 ? format(datum.value, '.1f') : ''","tickSize":{"condition":{"test":"datum.value % 0.5 === 0","value":6},"value":3.5},"labelPadding":6}},
      "color":{"field":"s","type":"nominal","scale":{"domain":["a","b"],"range":["#000000","#ff0000"]},"legend":{"orient":"none","legendX":485,"legendY":-148,"title":null,"direction":"vertical","symbolType":"stroke","symbolStrokeWidth":3,"symbolSize":729,"labelFontSize":20,"labelColor":"#222","labelOffset":10,"rowPadding":6,"padding":0,"labelExpr":"datum.value === 'a' ? '11-cis' : '9-DM'"}}}},
    {"data":{"values":[{"label":"45% bleach"}]},"mark":{"type":"text","align":"right","baseline":"middle","dx":3,"fontSize":18,"color":"#222"},"encoding":{"x":{"datum":60,"type":"quantitative"},"y":{"datum":1.0,"type":"quantitative"},"text":{"field":"label"}}}
  ]}
]
}
